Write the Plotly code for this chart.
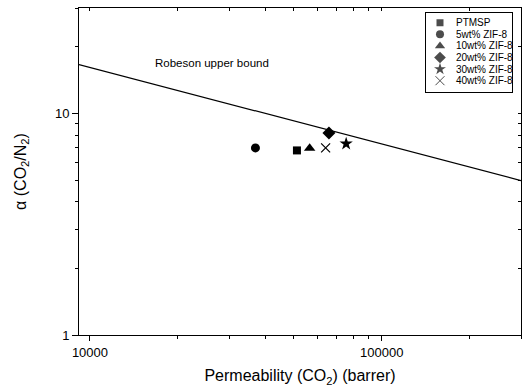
import plotly.graph_objects as go

# ---- data ----
labels = ["PTMSP", "5wt% ZIF-8", "10wt% ZIF-8", "20wt% ZIF-8", "30wt% ZIF-8", "40wt% ZIF-8"]
permeability = [51200, 36900, 56600, 65900, 75500, 64200]   # CO2 permeability (barrer)
selectivity = [6.82, 7.00, 6.98, 8.18, 7.31, 7.00]          # alpha CO2/N2
symbols = ["square", "circle", "triangle-up", "diamond", "star", "x-thin"]
sizes = [8, 9, 10, 10, 10, 9]

# axis ticks
x_major = [10000, 100000]
x_major_text = ["10000", "100000"]
x_minor = [20000, 30000, 40000, 50000, 60000, 70000, 80000, 90000, 200000, 300000]
y_major = [1, 10]
y_major_text = ["1", "10"]
y_minor = [2, 3, 4, 5, 6, 7, 8, 9, 20, 30]

# Robeson (2008) CO2/N2 upper bound: P = k * alpha^n
robeson_k = 30967000
robeson_n = -2.888
x_log_range = [3.9624, 5.4771]
y_log_range = [0, 1.4771]

FONT = "Arial, 'Liberation Sans', sans-serif"

fig = go.Figure()

# upper bound line across the x range
bound_p = [10 ** x_log_range[0], 10 ** x_log_range[1]]
bound_a = [(p / robeson_k) ** (1 / robeson_n) for p in bound_p]
fig.add_trace(go.Scatter(x=bound_p, y=bound_a, mode="lines",
                         line=dict(color="black", width=1.2),
                         showlegend=False, hoverinfo="skip"))

for lab, p, a, s, sz in zip(labels, permeability, selectivity, symbols, sizes):
    fig.add_trace(go.Scatter(
        x=[p], y=[a], mode="markers", name=lab, showlegend=False,
        marker=dict(symbol=s, size=sz, color="black",
                    line=dict(color="black", width=1.2 if s == "x-thin" else 0))))

# empty traces so the overlay tick axes are registered and drawn
for xa, ya in (("x2", "y2"), ("x4", "y4")):
    fig.add_trace(go.Scatter(x=[], y=[], xaxis=xa, yaxis=ya, mode="markers",
                             showlegend=False, hoverinfo="skip"))

# ---- hand-built legend in its own small axes ----
leg_idx = list(range(len(labels)))
fig.add_trace(go.Scatter(
    x=[0.165] * len(labels), y=leg_idx, mode="markers", xaxis="x3", yaxis="y3",
    showlegend=False, hoverinfo="skip",
    marker=dict(symbol=symbols, size=[7, 8, 9, 9, 9, 9], color="black",
                line=dict(color="black", width=[0, 0, 0, 0, 0, 1]))))
for i, lab in enumerate(labels):
    fig.add_annotation(x=0.327, y=i, xref="x3", yref="y3", text=lab, showarrow=False,
                       xanchor="left", yanchor="middle",
                       font=dict(family=FONT, size=10, color="black"))

fig.add_annotation(x=0.168, y=0.831, xref="paper", yref="paper",
                   text="Robeson upper bound", showarrow=False,
                   xanchor="left", yanchor="middle",
                   font=dict(family=FONT, size=11.5, color="black"))

base = dict(type="log", showgrid=False, zeroline=False, tickcolor="black", tickwidth=1,
            tickmode="array")

fig.update_layout(
    width=522, height=390,
    margin=dict(l=79, r=1, t=8, b=55, autoexpand=False),
    paper_bgcolor="white", plot_bgcolor="white",
    font=dict(family=FONT, color="black"),
    showlegend=False,
    # bottom: major ticks + labels
    xaxis=dict(**base, range=x_log_range, showline=True, linecolor="black", linewidth=1,
               ticks="outside", ticklen=5, tickvals=x_major, ticktext=x_major_text,
               tickfont=dict(size=13),
               title=dict(text="Permeability (CO<sub>2</sub>) (barrer)",
                          font=dict(size=16), standoff=11)),
    yaxis=dict(**base, range=y_log_range, showline=True, linecolor="black", linewidth=1,
               ticks="outside", ticklen=6, tickvals=y_major, ticktext=y_major_text,
               tickfont=dict(size=13),
               title=dict(text="\u03b1 (CO<sub>2</sub>/N<sub>2</sub>)",
                          font=dict(size=16), standoff=24)),
    # top / right mirrored frame with inside ticks
    xaxis2=dict(**base, range=x_log_range, overlaying="x", side="top", anchor="y2",
                showline=True, linecolor="black", linewidth=1,
                ticks="inside", ticklen=3, tickvals=x_major + x_minor, showticklabels=False),
    yaxis2=dict(**base, range=y_log_range, overlaying="y", side="right", anchor="x2",
                showline=True, linecolor="black", linewidth=1,
                ticks="inside", ticklen=3, tickvals=y_major + y_minor, showticklabels=False),
    # bottom / left minor ticks
    xaxis4=dict(**base, range=x_log_range, overlaying="x", side="bottom", anchor="y4",
                showline=False, ticks="outside", ticklen=3, tickvals=x_minor,
                showticklabels=False),
    yaxis4=dict(**base, range=y_log_range, overlaying="y", side="left", anchor="x4",
                showline=False, ticks="outside", ticklen=3, tickvals=y_minor,
                showticklabels=False),
    xaxis3=dict(domain=[0.7844, 0.9803], anchor="y3", range=[0, 1], showgrid=False,
                zeroline=False, showticklabels=False, ticks="", showline=True, mirror=True,
                linecolor="black", linewidth=1, fixedrange=True),
    yaxis3=dict(domain=[0.7422, 0.9838], anchor="x3", range=[6.0, -0.81], showgrid=False,
                zeroline=False, showticklabels=False, ticks="", showline=True, mirror=True,
                linecolor="black", linewidth=1, fixedrange=True),
)

fig.write_html("out.html", config={"displayModeBar": False},
               post_script="document.body.style.margin='0';document.body.style.overflow='hidden';")
